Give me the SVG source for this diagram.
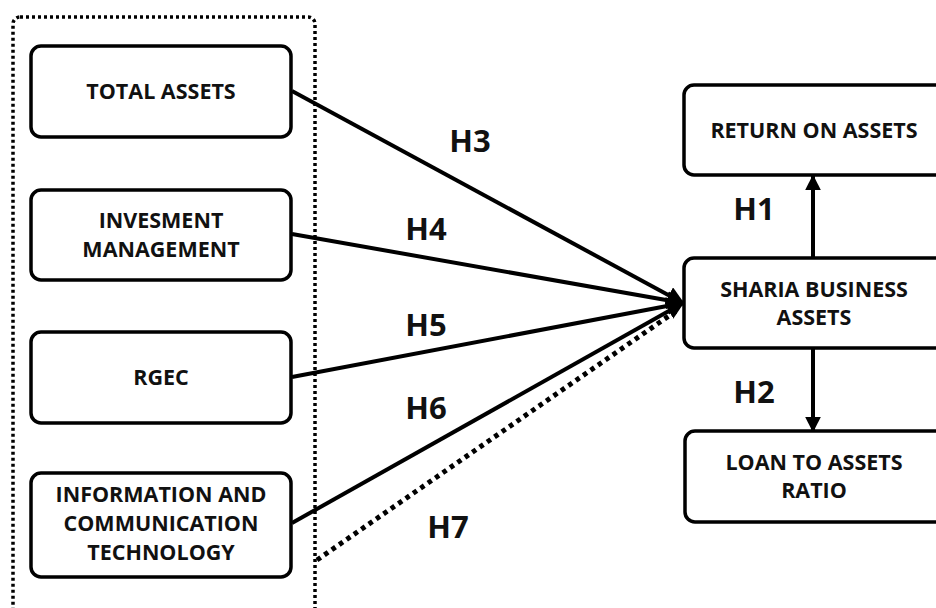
<svg xmlns="http://www.w3.org/2000/svg" width="936" height="608" viewBox="0 0 936 608">
<defs>
<marker id="arr" viewBox="0 0 10 10" refX="9" refY="5" markerWidth="4.5" markerHeight="4.5" orient="auto" markerUnits="strokeWidth">
<path d="M0,0 L10,5 L0,10 Z" fill="#000"/>
</marker>
<marker id="arrS" viewBox="0 0 10 10" refX="9" refY="5" markerWidth="4" markerHeight="4" orient="auto" markerUnits="strokeWidth">
<path d="M0,0 L10,5 L0,10 Z" fill="#000"/>
</marker>
</defs>
<style>
.box{fill:#fff;stroke:#000;stroke-width:3.5}
.t{font-family:"Open Sans","Liberation Sans",sans-serif;font-weight:700;font-size:21.5px;fill:#111;text-anchor:middle}
.h{font-family:"Open Sans","Liberation Sans",sans-serif;font-weight:700;font-size:31px;fill:#111;text-anchor:middle}
.ln{stroke:#000;stroke-width:4;fill:none}
.dot{stroke:#000;stroke-width:5;fill:none;stroke-dasharray:4.5 4.5}
</style>
<rect width="936" height="608" fill="#fff"/>
<g id="group-box">
<rect x="13" y="17" width="302" height="600" rx="7" fill="none" stroke="#000" stroke-width="3.5" stroke-dasharray="3 3"/>
</g>
<g id="connectors">
<line class="ln" x1="292" y1="91" x2="683" y2="303" marker-end="url(#arr)"/>
<line class="ln" x1="292" y1="234" x2="683" y2="303" marker-end="url(#arr)"/>
<line class="ln" x1="292" y1="377" x2="683" y2="303" marker-end="url(#arr)"/>
<line class="ln" x1="292" y1="523" x2="683" y2="303" marker-end="url(#arr)"/>
<line class="dot" x1="317" y1="560" x2="676" y2="311"/>
<line class="ln" x1="813" y1="258" x2="813" y2="176" marker-end="url(#arrS)"/>
<line class="ln" x1="813" y1="348" x2="813" y2="431" marker-end="url(#arrS)"/>
</g>
<g id="labels">
<text class="h" x="470" y="152">H3</text>
<text class="h" x="426" y="240">H4</text>
<text class="h" x="426" y="336">H5</text>
<text class="h" x="426" y="419">H6</text>
<text class="h" x="448" y="538">H7</text>
<text class="h" x="754" y="220">H1</text>
<text class="h" x="754" y="403">H2</text>
</g>
<g id="total-assets">
<rect class="box" x="31" y="46" width="260" height="91" rx="10"/>
<text class="t" x="161" y="99">TOTAL ASSETS</text>
</g>
<g id="investment-management">
<rect class="box" x="31" y="190" width="260" height="90" rx="10"/>
<text class="t" x="161" y="228">INVESMENT</text>
<text class="t" x="161" y="257">MANAGEMENT</text>
</g>
<g id="rgec">
<rect class="box" x="31" y="332" width="260" height="91" rx="10"/>
<text class="t" x="161" y="385">RGEC</text>
</g>
<g id="ict">
<rect class="box" x="31" y="473" width="260" height="104" rx="10"/>
<text class="t" x="161" y="502">INFORMATION AND</text>
<text class="t" x="161" y="531">COMMUNICATION</text>
<text class="t" x="161" y="560">TECHNOLOGY</text>
</g>
<g id="return-on-assets">
<rect class="box" x="684" y="85" width="266" height="90" rx="10"/>
<text class="t" x="814" y="138">RETURN ON ASSETS</text>
</g>
<g id="sharia-business-assets">
<rect class="box" x="684" y="258" width="266" height="90" rx="10"/>
<text class="t" x="814" y="297">SHARIA BUSINESS</text>
<text class="t" x="814" y="325">ASSETS</text>
</g>
<g id="loan-to-assets-ratio">
<rect class="box" x="685" y="431" width="265" height="91" rx="10"/>
<text class="t" x="814" y="470">LOAN TO ASSETS</text>
<text class="t" x="814" y="498">RATIO</text>
</g>
</svg>
